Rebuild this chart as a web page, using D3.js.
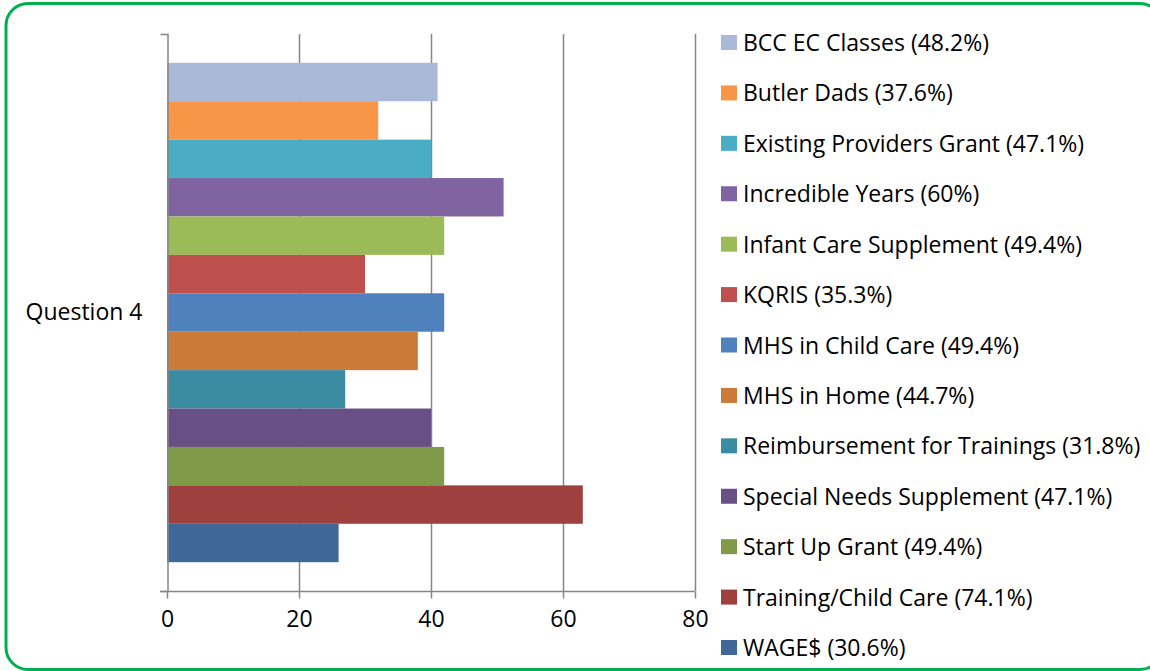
<!DOCTYPE html>
<html>
<head>
<meta charset="utf-8">
<script src="https://cdn.jsdelivr.net/npm/d3@7"></script>
<style>
	html, body { margin: 0; padding: 0; background: #fff; }
	svg { display: block; }
	text { font-family: "Open Sans", Lato, sans-serif; fill: #000; }
</style>
</head>
<body>
<svg id="chart" width="1150" height="671"></svg>
<script>
// data
const category = 'Question 4';
const programs = [
	'BCC EC Classes', 'Butler Dads', 'Existing Providers Grant', 'Incredible Years',
	'Infant Care Supplement', 'KQRIS', 'MHS in Child Care', 'MHS in Home',
	'Reimbursement for Trainings', 'Special Needs Supplement', 'Start Up Grant',
	'Training/Child Care', 'WAGE$'
];
const values = [41, 32, 40, 51, 42, 30, 42, 38, 27, 40, 42, 63, 26];
const shares = ['48.2', '37.6', '47.1', '60', '49.4', '35.3', '49.4', '44.7', '31.8', '47.1', '49.4', '74.1', '30.6'];
const colors = [
	'#AAB9D7', '#F79646', '#4BACC6', '#8064A2', '#9BBB59', '#C0504D', '#4F81BD',
	'#CB7A37', '#3B8BA2', '#684F86', '#7F9A48', '#9D403E', '#3F6899'
];
const xTicks = [0, 20, 40, 60, 80];

const PLOT = {left: 167, right: 695, top: 34, bottom: 591};
const FONT = '"Open Sans", Lato, sans-serif';
const FONT_SIZE = 23;

const svg = d3.select('#chart');

// frame
svg.append('rect')
	.attr('x', 6)
	.attr('y', 3.5)
	.attr('width', 1156)
	.attr('height', 666)
	.attr('rx', 22)
	.attr('fill', 'none')
	.attr('stroke', '#00B050')
	.attr('stroke-width', 3);

const x = d3.scaleLinear().domain([0, 80]).range([PLOT.left, PLOT.right]);

const yOuter = d3.scaleBand().domain([category]).range([PLOT.top, PLOT.bottom]);

const yInner = d3.scaleBand()
	.domain(programs)
	.range([0, yOuter.bandwidth()])
	.paddingInner(0)
	.paddingOuter(0.75);

// vertical gridlines
svg.append('g')
	.selectAll('line')
	.data(xTicks.filter(d => d > 0))
	.join('line')
	.attr('x1', d => Math.round(x(d)) + 0.5)
	.attr('x2', d => Math.round(x(d)) + 0.5)
	.attr('y1', PLOT.top)
	.attr('y2', PLOT.bottom)
	.attr('stroke', '#868686')
	.attr('stroke-width', 1.5);

// bars
svg.append('g')
	.selectAll('rect')
	.data(programs)
	.join('rect')
	.attr('x', x(0))
	.attr('y', d => yOuter(category) + yInner(d))
	.attr('width', (d, i) => x(values[i]) - x(0))
	.attr('height', yInner.bandwidth())
	.attr('fill', (d, i) => colors[i]);

// x axis
const xAxis = svg.append('g')
	.attr('transform', `translate(0,${PLOT.bottom + 0.5})`)
	.call(d3.axisBottom(x).tickValues(xTicks).tickSize(7).tickSizeOuter(0).tickPadding(12));

xAxis.select('.domain').remove();
xAxis.append('line')
	.attr('x1', PLOT.left - 7)
	.attr('x2', PLOT.right)
	.attr('stroke', '#868686')
	.attr('stroke-width', 1.5);
xAxis.selectAll('.tick line').attr('stroke', '#868686').attr('stroke-width', 1.5);
xAxis.selectAll('.tick text')
	.attr('font-size', FONT_SIZE)
	.attr('font-family', FONT)
	.attr('fill', '#000');

// y axis
const yAxis = svg.append('g')
	.attr('transform', `translate(${PLOT.left + 0.5},0)`)
	.call(d3.axisLeft(yOuter).tickSize(0).tickSizeOuter(7).tickPadding(25));

yAxis.select('.domain').attr('stroke', '#868686').attr('stroke-width', 1.5);
yAxis.selectAll('.tick text')
	.attr('font-size', FONT_SIZE)
	.attr('font-family', FONT)
	.attr('fill', '#000');

// legend
const legendY = d3.scalePoint().domain(programs).range([43, 648]);

const legend = svg.append('g')
	.selectAll('g')
	.data(programs)
	.join('g')
	.attr('transform', d => `translate(721,${legendY(d)})`);

legend.append('rect')
	.attr('x', 0)
	.attr('y', -8)
	.attr('width', 16)
	.attr('height', 15)
	.attr('fill', (d, i) => colors[i]);

legend.append('text')
	.attr('x', 22)
	.attr('dy', '0.35em')
	.attr('font-size', FONT_SIZE)
	.text((d, i) => `${d} (${shares[i]}%)`);
</script>
</body>
</html>
